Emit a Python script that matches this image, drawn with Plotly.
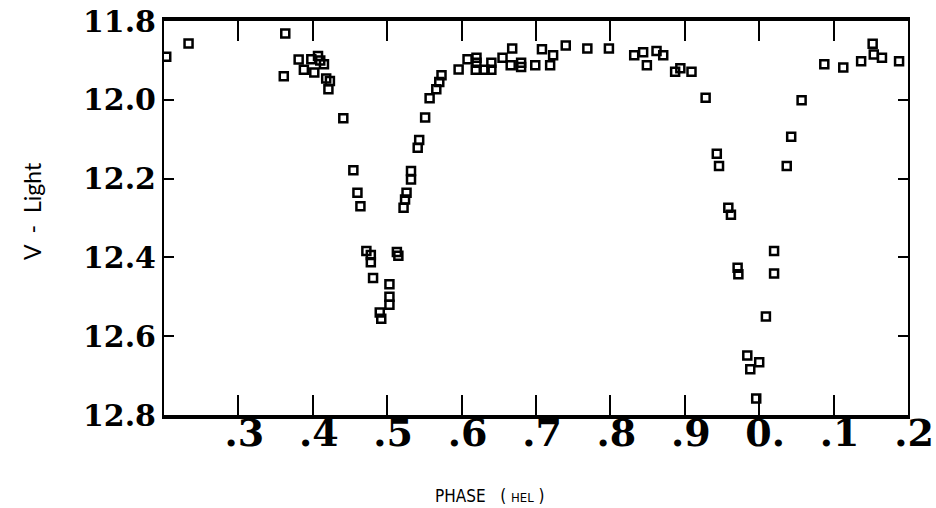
import plotly.graph_objects as go

# Phase (extended past 1.0 so the plot wraps from 0.2 to 1.2) and V magnitude
phase = [0.203, 0.233, 0.363, 0.361, 0.381, 0.388, 0.398, 0.407, 0.410, 0.402,
         0.415, 0.418, 0.423, 0.421, 0.441, 0.4545, 0.460, 0.464, 0.472, 0.478,
         0.478, 0.481, 0.490, 0.492, 0.503, 0.503, 0.503, 0.513, 0.515, 0.522,
         0.524, 0.526, 0.532, 0.532, 0.541, 0.543, 0.551, 0.557, 0.566, 0.570,
         0.573, 0.596, 0.608, 0.620, 0.620, 0.619, 0.631, 0.640, 0.640, 0.655,
         0.666, 0.668, 0.680, 0.680, 0.699, 0.708, 0.719, 0.723, 0.740, 0.769,
         0.798, 0.832, 0.844, 0.849, 0.862, 0.871, 0.887, 0.894, 0.909, 0.928,
         0.943, 0.946, 0.9585, 0.962, 0.971, 0.972, 0.984, 0.988, 1.000, 0.996,
         1.009, 1.020, 1.020, 1.037, 1.043, 1.057, 1.0875, 1.113, 1.137, 1.1525,
         1.154, 1.165, 1.188]
vmag = [11.891, 11.857, 11.832, 11.940, 11.898, 11.924, 11.897, 11.889, 11.900, 11.931,
        11.910, 11.946, 11.952, 11.973, 12.047, 12.179, 12.236, 12.270, 12.384, 12.394,
        12.412, 12.452, 12.540, 12.556, 12.468, 12.500, 12.520, 12.386, 12.396, 12.274,
        12.253, 12.236, 12.181, 12.202, 12.122, 12.102, 12.045, 11.996, 11.973, 11.955,
        11.938, 11.923, 11.897, 11.893, 11.906, 11.924, 11.924, 11.906, 11.924, 11.893,
        11.912, 11.870, 11.906, 11.917, 11.912, 11.872, 11.912, 11.887, 11.862, 11.870,
        11.870, 11.887, 11.879, 11.912, 11.876, 11.887, 11.929, 11.920, 11.929, 11.995,
        12.137, 12.168, 12.274, 12.292, 12.426, 12.443, 12.649, 12.684, 12.666, 12.758,
        12.550, 12.384, 12.441, 12.168, 12.094, 12.001, 11.910, 11.918, 11.902, 11.858,
        11.885, 11.893, 11.902]

x_tickvals = [0.3, 0.4, 0.5, 0.6, 0.7, 0.8, 0.9, 1.0, 1.1, 1.2]
x_ticktext = [".3", ".4", ".5", ".6", ".7", ".8", ".9", "0.", ".1", ".2"]
y_tickvals = [11.8, 12.0, 12.2, 12.4, 12.6, 12.8]
y_ticktext = ["11.8", "12.0", "12.2", "12.4", "12.6", "12.8"]

fig = go.Figure()
fig.add_trace(go.Scatter(
    x=phase, y=vmag, mode="markers",
    marker=dict(symbol="square-open", size=8, color="black",
                line=dict(width=2.5, color="black")),
    showlegend=False, hoverinfo="x+y"))

serif_bold = dict(family="DejaVu Serif", color="black", weight="bold")

fig.update_layout(
    width=936, height=508,
    margin=dict(l=164, r=28, t=21, b=93, autoexpand=False),
    paper_bgcolor="white", plot_bgcolor="white",
    xaxis=dict(range=[0.2, 1.2], tickvals=x_tickvals, ticktext=x_ticktext,
               showgrid=False, zeroline=False, automargin=False,
               showline=True, linewidth=3.5, linecolor="black", mirror="ticks",
               ticks="inside", ticklen=20, tickwidth=2, tickcolor="black",
               tickfont=dict(size=38, **serif_bold), ticklabelshift=6,
               ticklabelstandoff=-18, ticklabeloverflow="allow"),
    yaxis=dict(range=[12.8, 11.8], tickvals=y_tickvals, ticktext=y_ticktext,
               showgrid=False, zeroline=False, automargin=False,
               showline=True, linewidth=2, linecolor="black", mirror="ticks",
               ticks="inside", ticklen=10, tickwidth=2, tickcolor="black",
               tickfont=dict(size=30, **serif_bold), ticklabeloverflow="allow"),
    annotations=[
        dict(text="V  -  Light", xref="paper", yref="paper",
             x=-0.1774, y=0.518, xanchor="center", yanchor="middle",
             textangle=-90, showarrow=False,
             font=dict(family="Lato", size=23, color="black")),
        dict(text="PHASE &nbsp;&nbsp;( <span style='font-size:13px'>HEL</span> )",
             xref="paper", yref="paper",
             x=0.438, y=-0.2056, xanchor="center", yanchor="middle",
             showarrow=False,
             font=dict(family="Liberation Sans Narrow, DejaVu Sans Condensed, sans-serif",
                       size=17, color="black")),
    ],
)

# remove the browser's default 8px body margin so the figure fills the window
fig.write_html("out.html",
               config={"displayModeBar": False},
               post_script="document.body.style.margin='0';document.body.style.overflow='hidden';")
